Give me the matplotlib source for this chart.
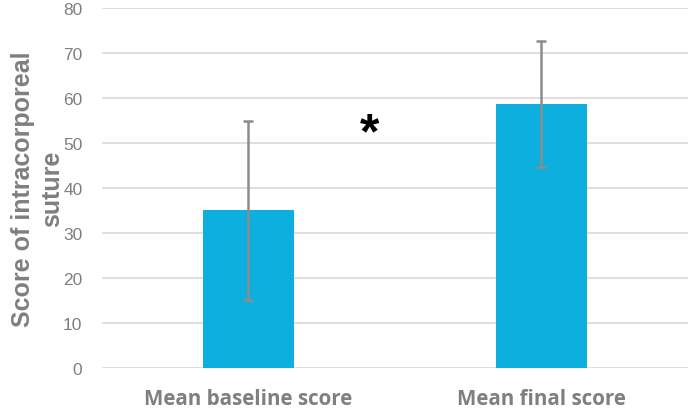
import matplotlib
matplotlib.use("Agg")
import matplotlib.pyplot as plt
import numpy as np

categories = ["Mean baseline score", "Mean final score"]
means      = [35.0, 58.7]
errors     = [20.0, 14.0]
y_ticks    = list(range(0, 81, 10))

BAR_COLOR  = "#0DAFDF"
ERR_COLOR  = "#8C8C8C"
GRID_COLOR = "#D9D9D9"
TEXT_COLOR = "#7F7F7F"

fig = plt.figure(figsize=(6.88, 4.10), dpi=100)
ax = fig.add_axes([0.148, 0.101, 0.852, 0.876])

x = np.arange(len(categories))
ax.bar(x, means, width=0.31, color=BAR_COLOR, zorder=2)
ax.errorbar(x, means, yerr=errors, fmt="none", ecolor=ERR_COLOR,
            elinewidth=1.8, capsize=3.5, capthick=1.8, zorder=3)

ax.set_xlim(-0.5, 1.5)
ax.set_ylim(0, 80)
ax.set_yticks(y_ticks)
ax.yaxis.grid(True, color=GRID_COLOR, linewidth=1.2, zorder=0)
ax.set_axisbelow(True)
for s in ax.spines.values():
    s.set_visible(False)
ax.tick_params(axis="both", length=0)
ax.tick_params(axis="y", labelsize=12.5, labelcolor=TEXT_COLOR, pad=14)
ax.set_xticks(x)
ax.set_xticklabels(categories, fontsize=14.8, fontweight="bold",
                   color=TEXT_COLOR, family="Open Sans")
ax.tick_params(axis="x", pad=15)
for lbl in ax.get_yticklabels():
    lbl.set_family("Liberation Sans")

ax.set_ylabel("Score of intracorporeal\nsuture", fontsize=18, fontweight="bold",
              color=TEXT_COLOR, family="Liberation Sans", linespacing=1.3,
              labelpad=-1)

# significance marker
ax.text(0.415, 52.0, "*", fontsize=36, fontweight="bold", color="black",
        ha="center", va="center", family="Liberation Sans")

fig.savefig("out.png", dpi=100)
